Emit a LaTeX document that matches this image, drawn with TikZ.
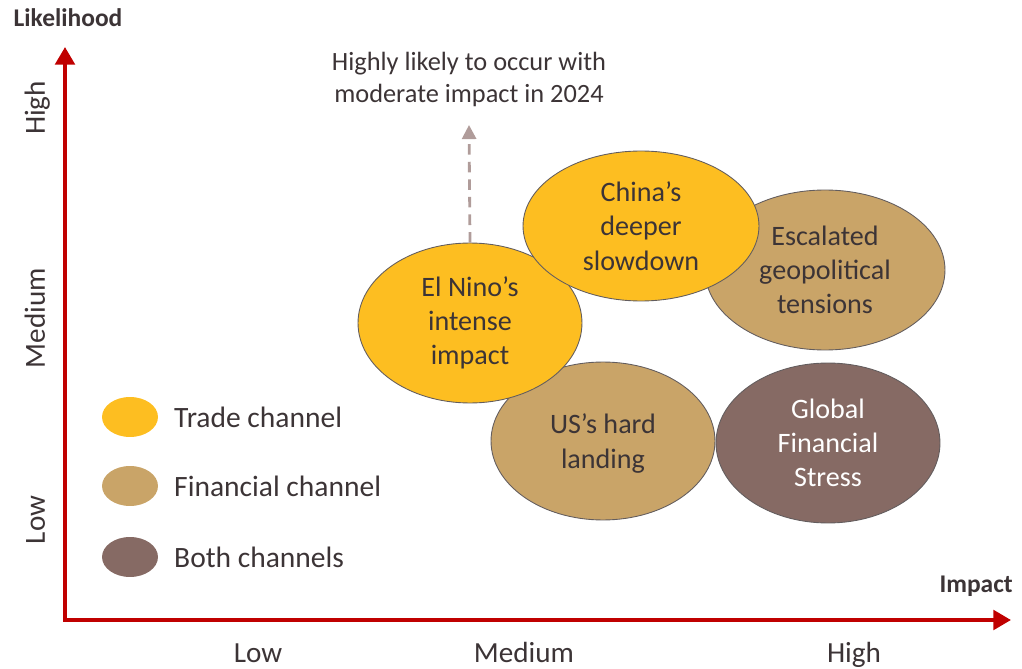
\documentclass[tikz,border=0pt]{standalone}
\usepackage{fontspec}
\setmainfont{Carlito}
\usepackage{xcolor}
\usepackage{tikz}
\usetikzlibrary{shapes.geometric, arrows.meta, positioning}
\definecolor{axisred}{RGB}{192, 0, 0}
\definecolor{tradeyellow}{RGB}{253, 190, 33}
\definecolor{fintan}{RGB}{201, 164, 104}
\definecolor{bothbrown}{RGB}{134, 106, 100}
\definecolor{inktext}{RGB}{60, 52, 54}
\definecolor{hintgray}{RGB}{176, 156, 154}

\begin{document}
\begin{tikzpicture}[
    x=0.02cm, y=-0.02cm,
    risk/.style={ellipse, draw=inktext!80, line width=0.5pt, inner sep=0pt, align=center, text=inktext,
        font=\fontsize{16}{19.5}\selectfont, minimum width=4.48cm, minimum height=3.2cm},
    legendmark/.style={ellipse, draw=none, minimum width=1.12cm, minimum height=0.8cm, inner sep=0pt},
    legendtext/.style={right, text=inktext, font=\fontsize{16.8}{20}\selectfont},
    axis/.style={{Triangle[length=10pt, width=11pt]}-{Triangle[length=10pt, width=11pt]}, line width=2.3pt, axisred},
    tick/.style={text=inktext, font=\fontsize{16.6}{20}\selectfont},
    hint/.style={-{Triangle[length=8pt, width=8pt]}, dashed, dash pattern=on 6pt off 4pt, line width=1.6pt, hintgray}
]
\useasboundingbox (0,0) rectangle (1022,669);

% axes
\coordinate (ytip) at (65,47);
\coordinate (xtip) at (1011,620);
\draw[axis] (ytip) |- (xtip);

\node[text=inktext, font=\fontsize{14.5}{17}\selectfont\bfseries] (ylabel) at (68,18) {Likelihood};
\node[text=inktext, font=\fontsize{14.5}{17}\selectfont\bfseries, anchor=east] (xlabel) at (1019,586) {Impact};

\node[tick, rotate=90, anchor=base] (yhigh) at (45,108) {High};
\node[tick, rotate=90, anchor=base] (ymed) at (45,318) {Medium};
\node[tick, rotate=90, anchor=base] (ylow) at (45,520) {Low};
\node[tick, anchor=base] (xlow) at (258,662) {Low};
\node[tick, anchor=base] (xmed) at (524,662) {Medium};
\node[tick, anchor=base] (xhigh) at (854,662) {High};

% risks
\node[risk, fill=fintan, minimum width=4.8cm] (geo) at (825,270) {Escalated\\geopolitical\\tensions};
\node[risk, fill=fintan, minimum height=3.16cm, text depth=-2pt] (us) at (603,441) {US’s hard\\landing};
\node[risk, fill=tradeyellow] (elnino) at (470,323) {El Nino’s\\intense\\impact};
\node[risk, fill=tradeyellow, minimum width=4.72cm, minimum height=3.0cm] (china) at (641,226) {China’s\\deeper\\slowdown};
\node[risk, fill=bothbrown, text=white] (gfs) at (828,443) {Global\\Financial\\Stress};

% note
\node[align=center, text=inktext, font=\fontsize{15}{18.2}\selectfont] (note) at (469,79) {Highly likely to occur with\\moderate impact in 2024};
\coordinate (hinttip) at (469,125);
\draw[hint] (elnino.north) -- (hinttip);

% legend
\node[legendmark, fill=tradeyellow] (ltrade) at (130,417) {};
\node[legendmark, fill=fintan] (lfin) at (130,486) {};
\node[legendmark, fill=bothbrown] (lboth) at (130,557) {};
\node[legendtext] (ttrade) at (168,417) {Trade channel};
\node[legendtext] (tfin) at (168,486) {Financial channel};
\node[legendtext] (tboth) at (168,557) {Both channels};

\end{tikzpicture}
\end{document}
